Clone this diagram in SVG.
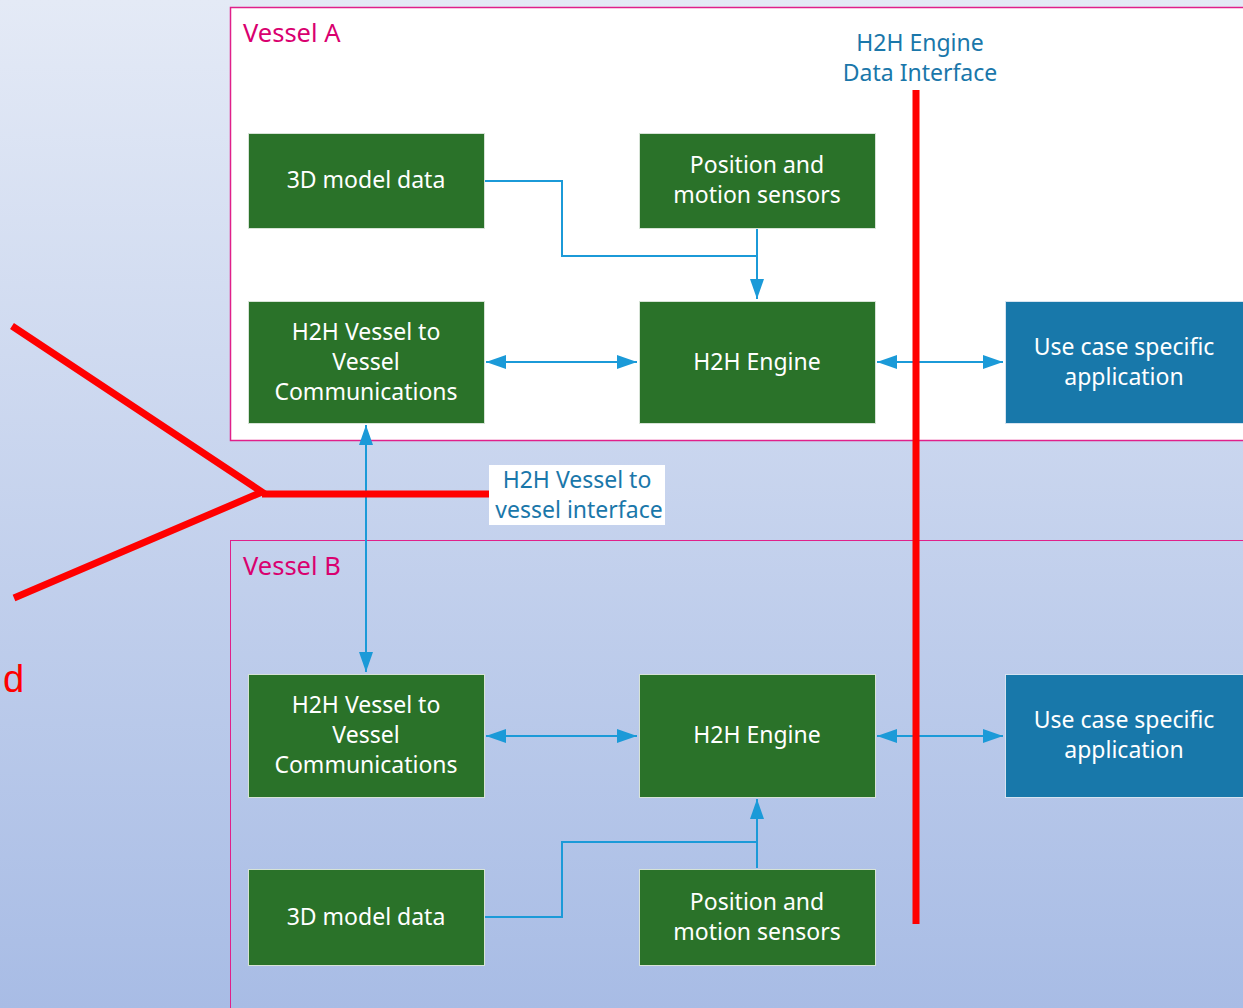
<svg xmlns="http://www.w3.org/2000/svg" width="1243" height="1008" viewBox="0 0 1243 1008">
<defs>
<linearGradient id="bg" x1="0" y1="0" x2="0" y2="1">
<stop offset="0" stop-color="#E4EAF6"/>
<stop offset="1" stop-color="#A8BCE5"/>
</linearGradient>
<marker id="ahb" viewBox="0 0 20 14" refX="20" refY="7" markerWidth="20" markerHeight="14" markerUnits="userSpaceOnUse" orient="auto-start-reverse">
<path d="M0,0 L20,7 L0,14 z" fill="#1B9AD8"/>
</marker>
</defs>
<style>
.t{font-family:"Noto Sans","Open Sans",sans-serif;font-size:23px;}
.vl{font-size:25.5px;}
.n{fill:#2A7229;stroke:#D6E3D6;stroke-width:1;}
.u{fill:#1878AA;stroke:#D6E3F0;stroke-width:1;}
.w{fill:#FFFFFF;text-anchor:middle;}
.c{fill:none;stroke:#1B9AD8;stroke-width:2;}
.r{fill:none;stroke:#FF0000;stroke-width:7;}
.v{fill:#D9006F;}
.b{fill:#1A77AA;text-anchor:middle;}
</style>
<rect x="0" y="0" width="1243" height="1008" fill="url(#bg)"/>
<g id="vesselA">
<rect x="230.5" y="7.5" width="1020" height="433" fill="#FFFFFF" stroke="#E0208A" stroke-width="1.5"/>
<text class="t vl v" x="243" y="42">Vessel A</text>
</g>
<g id="vesselB">
<rect x="230.5" y="540.5" width="1020" height="480" fill="none" stroke="#E0208A" stroke-width="1"/>
<text class="t vl v" x="243" y="575">Vessel B</text>
</g>
<g id="connectors">
<path class="c" d="M485,181 H562 V256 H757"/>
<path class="c" d="M757,229 V299" marker-end="url(#ahb)"/>
<path class="c" d="M486,362 H637" marker-start="url(#ahb)" marker-end="url(#ahb)"/>
<path class="c" d="M877,362 H1003" marker-start="url(#ahb)" marker-end="url(#ahb)"/>
<path class="c" d="M366,425 V672" marker-start="url(#ahb)" marker-end="url(#ahb)"/>
<path class="c" d="M486,736 H637" marker-start="url(#ahb)" marker-end="url(#ahb)"/>
<path class="c" d="M877,736 H1003" marker-start="url(#ahb)" marker-end="url(#ahb)"/>
<path class="c" d="M485,917 H562 V842 H757"/>
<path class="c" d="M757,868 V799" marker-end="url(#ahb)"/>
</g>
<g id="redlines">
<path class="r" d="M916,90 V924"/>
<path class="r" d="M12,326 L262,492 L14,598"/>
<path class="r" d="M262,494 H489"/>
</g>
<g id="a3d"><rect class="n" x="248.5" y="133.5" width="236" height="95"/><text class="t w" x="366" y="188">3D model data</text></g>
<g id="apos"><rect class="n" x="639.5" y="133.5" width="236" height="95"/><text class="t w" x="757" y="173">Position and</text><text class="t w" x="757" y="203">motion sensors</text></g>
<g id="av2v"><rect class="n" x="248.5" y="301.5" width="236" height="122"/><text class="t w" x="366" y="340">H2H Vessel to</text><text class="t w" x="366" y="370">Vessel</text><text class="t w" x="366" y="400">Communications</text></g>
<g id="aeng"><rect class="n" x="639.5" y="301.5" width="236" height="122"/><text class="t w" x="757" y="370">H2H Engine</text></g>
<g id="ause"><rect class="u" x="1005.5" y="301.5" width="240" height="122"/><text class="t w" x="1124" y="355">Use case specific</text><text class="t w" x="1124" y="385">application</text></g>
<g id="bv2v"><rect class="n" x="248.5" y="674.5" width="236" height="123"/><text class="t w" x="366" y="713">H2H Vessel to</text><text class="t w" x="366" y="743">Vessel</text><text class="t w" x="366" y="773">Communications</text></g>
<g id="beng"><rect class="n" x="639.5" y="674.5" width="236" height="123"/><text class="t w" x="757" y="743">H2H Engine</text></g>
<g id="buse"><rect class="u" x="1005.5" y="674.5" width="240" height="123"/><text class="t w" x="1124" y="728">Use case specific</text><text class="t w" x="1124" y="758">application</text></g>
<g id="b3d"><rect class="n" x="248.5" y="869.5" width="236" height="96"/><text class="t w" x="366" y="925">3D model data</text></g>
<g id="bpos"><rect class="n" x="639.5" y="869.5" width="236" height="96"/><text class="t w" x="757" y="910">Position and</text><text class="t w" x="757" y="940">motion sensors</text></g>
<g id="engIface"><text class="t b" x="920" y="51">H2H Engine</text><text class="t b" x="920" y="81">Data Interface</text></g>
<g id="v2vIface"><rect x="489" y="465" width="176" height="60" fill="#FFFFFF"/><text class="t b" x="577" y="488">H2H Vessel to</text><text class="t b" x="579" y="518">vessel interface</text></g>
<text x="3" y="692" font-family="Liberation Sans, sans-serif" font-size="38" fill="#FF0000">d</text>
</svg>
